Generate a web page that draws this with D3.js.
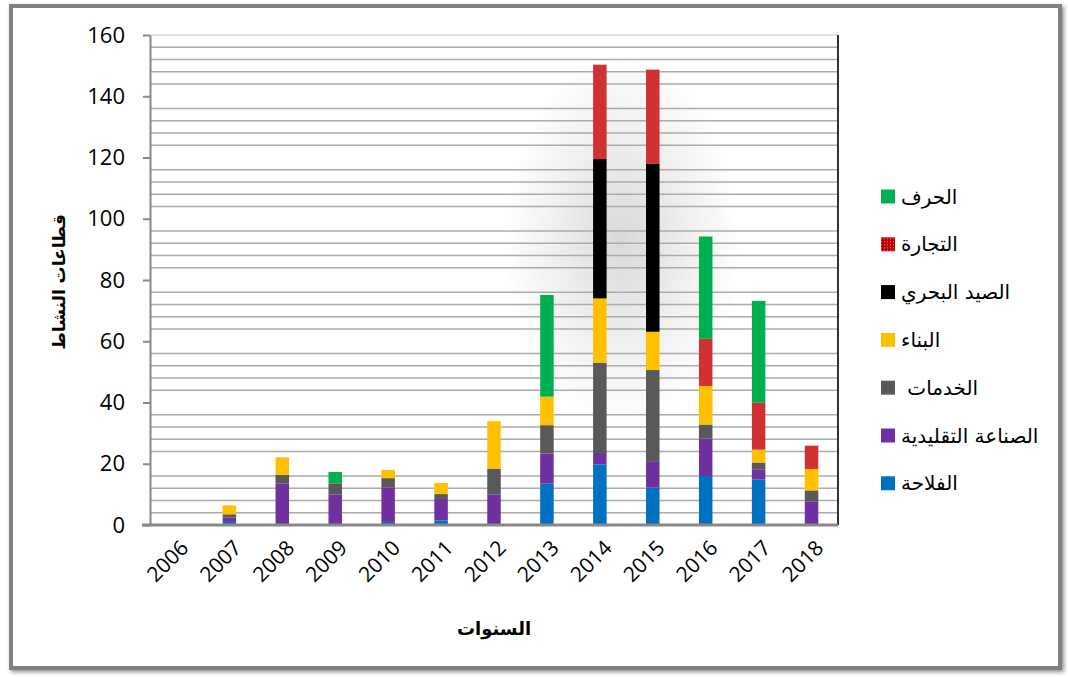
<!DOCTYPE html>
<html>
<head>
<meta charset="utf-8">
<script src="https://cdn.jsdelivr.net/npm/d3@7"></script>
<style>
  body { margin: 0; background: #fff; }
  svg { display: block; }
</style>
</head>
<body>
<div id="chart"></div>
<script>
// Years on the x axis
const years = ["2006", "2007", "2008", "2009", "2010", "2011", "2012", "2013", "2014", "2015", "2016", "2017", "2018"];

// Series values, bottom of the stack first
const falaha   = [0, 1, 0, 0, 1, 1.5, 0, 13.5, 19.8, 12.2, 16, 14.9, 0];
const sinaa    = [0, 1.5, 13.6, 10, 11.3, 7, 10, 9.8, 3.7, 8.4, 12.2, 3.3, 7.6];
const khadamat = [0, 1, 2.8, 3.6, 3, 1.6, 8.4, 9.3, 29.5, 30, 4.6, 2.2, 3.7];
const binaa    = [0, 2.9, 5.7, 0, 2.7, 3.6, 15.5, 9.3, 21, 12.5, 12.6, 4.2, 7];
const sayd     = [0, 0, 0, 0, 0, 0, 0, 0, 45.5, 54.8, 0, 0, 0];
const tijara   = [0, 0, 0, 0, 0, 0, 0, 0, 30.8, 30.8, 15.4, 15.3, 7.6];
const hiraf    = [0, 0, 0, 3.7, 0, 0, 0, 33.2, 0, 0, 33.4, 33.3, 0];

const seriesNames = ["الفلاحة", "الصناعة التقليدية", "\u00A0الخدمات", "البناء", "الصيد البحري", "التجارة", "الحرف"];
const seriesValues = [falaha, sinaa, khadamat, binaa, sayd, tijara, hiraf];
const colors = ["#0070C0", "#7030A0", "#595959", "#FFC000", "#000000", "#D03234", "#00B050"];

const yTicks = [0, 20, 40, 60, 80, 100, 120, 140, 160];

const W = 1068, H = 677;
const plot = { left: 150, right: 838, top: 35, bottom: 525 };

const svg = d3.select("#chart").append("svg")
  .attr("width", W)
  .attr("height", H);

const defs = svg.append("defs");

// shadow for outer frame
const sh = defs.append("filter").attr("id", "frameShadow")
  .attr("x", "-5%").attr("y", "-5%").attr("width", "110%").attr("height", "110%");
sh.append("feDropShadow").attr("dx", 2).attr("dy", 2).attr("stdDeviation", 2)
  .attr("flood-color", "#000").attr("flood-opacity", 0.45);

// soft gray glow behind 2014/2015
const glow = defs.append("radialGradient").attr("id", "glow");
glow.append("stop").attr("offset", "0%").attr("stop-color", "#000").attr("stop-opacity", 0.15);
glow.append("stop").attr("offset", "50%").attr("stop-color", "#000").attr("stop-opacity", 0.07);
glow.append("stop").attr("offset", "100%").attr("stop-color", "#000").attr("stop-opacity", 0);

// legend pattern for التجارة
const pat = defs.append("pattern").attr("id", "dots")
  .attr("width", 3).attr("height", 3).attr("patternUnits", "userSpaceOnUse");
pat.append("rect").attr("width", 3).attr("height", 3).attr("fill", "#C00000");
pat.append("rect").attr("width", 1).attr("height", 1).attr("fill", "#F08080");

// outer frame
svg.append("rect")
  .attr("x", 11).attr("y", 6)
  .attr("width", 1049).attr("height", 662)
  .attr("fill", "#fff")
  .attr("stroke", "#808080")
  .attr("stroke-width", 4)
  .attr("filter", "url(#frameShadow)");

const x = d3.scaleBand()
  .domain(years)
  .range([plot.left, plot.right])
  .paddingInner(0.745)
  .paddingOuter(0.3725);

const y = d3.scaleLinear()
  .domain([0, 160])
  .range([plot.bottom, plot.top]);

// glow
svg.append("ellipse")
  .attr("cx", 622).attr("cy", 240)
  .attr("rx", 120).attr("ry", 190)
  .attr("fill", "url(#glow)");

// minor gridlines every 4 (not drawn at the labelled values)
const gridVals = d3.range(4, 160, 4).filter(v => v % 20 !== 0);
svg.append("g").selectAll("line")
  .data(gridVals)
  .enter().append("line")
  .attr("x1", plot.left).attr("x2", plot.right)
  .attr("y1", d => y(d)).attr("y2", d => y(d))
  .attr("stroke", "#ababab")
  .attr("stroke-width", 1.6);

// top border of the plot
svg.append("line")
  .attr("x1", plot.left).attr("x2", plot.right)
  .attr("y1", y(160)).attr("y2", y(160))
  .attr("stroke", "#d9d9d9").attr("stroke-width", 1.5);

// right border of the plot
svg.append("line")
  .attr("x1", plot.right).attr("x2", plot.right)
  .attr("y1", y(160)).attr("y2", y(0))
  .attr("stroke", "#333").attr("stroke-width", 2);

// stacked bars
const rows = years.map((yr, i) => {
  const r = { year: yr };
  seriesNames.forEach((n, s) => { r["s" + s] = seriesValues[s][i]; });
  return r;
});
const stack = d3.stack().keys(seriesNames.map((n, s) => "s" + s))(rows);

svg.append("g").selectAll("g")
  .data(stack)
  .enter().append("g")
  .attr("fill", (d, i) => colors[i])
  .selectAll("rect")
  .data(d => d)
  .enter().append("rect")
  .attr("x", d => x(d.data.year))
  .attr("y", d => y(d[1]))
  .attr("width", x.bandwidth())
  .attr("height", d => y(d[0]) - y(d[1]));

// y axis
const yAxis = svg.append("g")
  .attr("transform", `translate(${plot.left},0)`)
  .call(d3.axisLeft(y).tickValues(yTicks).tickSizeInner(7).tickSizeOuter(0).tickPadding(18));
yAxis.select(".domain").attr("stroke", "#888").attr("stroke-width", 2);
yAxis.selectAll(".tick line").attr("stroke", "#888").attr("stroke-width", 2);
yAxis.selectAll(".tick text")
  .attr("font-family", "Open Sans, sans-serif")
  .attr("font-size", 22)
  .attr("fill", "#000");

// x axis
const xAxis = svg.append("g")
  .attr("transform", `translate(0,${plot.bottom})`)
  .call(d3.axisBottom(x).tickSize(0).tickSizeOuter(0));
xAxis.select(".domain").attr("stroke", "#888").attr("stroke-width", 3)
  .attr("d", `M${plot.left - 8},0H${plot.right}`);
xAxis.selectAll(".tick text")
  .attr("font-family", "Open Sans, sans-serif")
  .attr("font-size", 21)
  .attr("fill", "#000")
  .attr("text-anchor", "end")
  .attr("dy", "0.35em")
  .attr("transform", "translate(6,17) rotate(-45)");

// axis titles
svg.append("text")
  .attr("x", (plot.left + plot.right) / 2)
  .attr("y", 635)
  .attr("text-anchor", "middle")
  .attr("font-family", "DejaVu Sans, sans-serif")
  .attr("font-weight", "bold")
  .attr("font-size", 18)
  .text("السنوات");

svg.append("text")
  .attr("transform", `translate(65,${(plot.top + plot.bottom) / 2 + 2}) rotate(-90)`)
  .attr("text-anchor", "middle")
  .attr("font-family", "DejaVu Sans, sans-serif")
  .attr("font-weight", "bold")
  .attr("font-size", 17)
  .text("قطاعات النشاط");

// legend (top to bottom is reverse of stacking order)
const legendOrder = d3.range(seriesNames.length).reverse();
const legend = svg.append("g").selectAll("g")
  .data(legendOrder)
  .enter().append("g")
  .attr("transform", (d, i) => `translate(881,${196.5 + i * 47.8})`);

legend.append("rect")
  .attr("x", 0).attr("y", -7)
  .attr("width", 14).attr("height", 14)
  .attr("fill", d => seriesNames[d] === "التجارة" ? "url(#dots)" : colors[d]);

legend.append("text")
  .attr("x", 20).attr("y", 0)
  .attr("dy", "0.35em")
  .attr("font-family", "DejaVu Sans, sans-serif")
  .attr("font-size", 20)
  .attr("fill", "#000")
  .text(d => seriesNames[d]);
</script>
</body>
</html>
